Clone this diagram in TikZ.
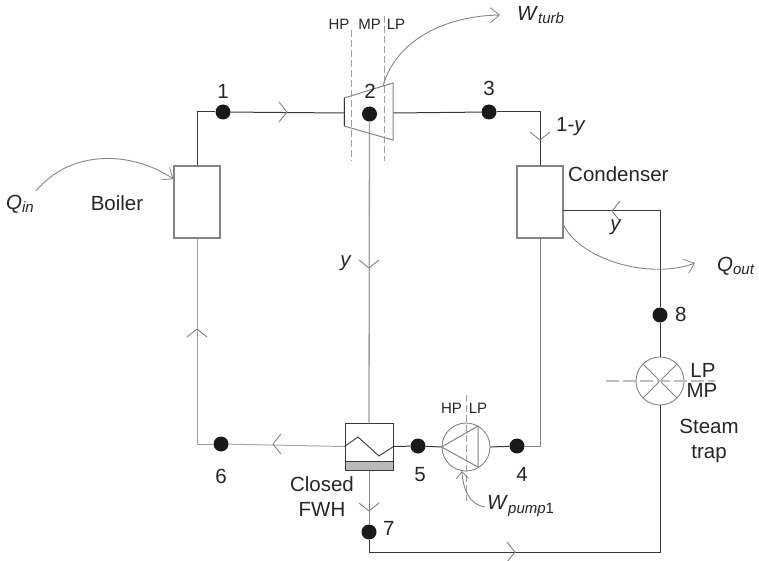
\documentclass[tikz,border=0pt]{standalone}
\usepackage{fontspec}
\setmainfont{Liberation Sans}
\usetikzlibrary{arrows.meta,calc}
\definecolor{ln}{gray}{0.22}
\definecolor{lg}{gray}{0.52}
\definecolor{dsh}{gray}{0.62}
\tikzset{
  x=1pt,y=-1pt,
  pipe/.style={draw=ln,line width=1pt},
  pipeg/.style={draw=lg,line width=1pt},
  unit/.style={draw=lg,line width=1.1pt,fill=white,inner sep=0pt,minimum width=46pt,minimum height=72pt},
  dotnode/.style={circle,fill=black!90,inner sep=0pt,minimum size=15pt},
  lab/.style={font=\fontsize{20.5}{25}\selectfont,inner sep=0pt,text=black!85,align=center},
  slab/.style={font=\fontsize{15}{17}\selectfont,inner sep=0pt,text=black!85},
  dashl/.style={draw=dsh,line width=0.9pt,dash pattern=on 7pt off 3pt},
  heat/.style={draw=lg,line width=0.9pt,-{Straight Barb[length=9pt,width=15pt,line width=0.8pt]}},
  chevlin/.style={draw=lg,line width=0.9pt},
  pics/chev/.style={code={\draw[chevlin] (-8,-10) -- (0,0) -- (-8,10);}}
}
\newcommand{\subt}[1]{\raisebox{-3.5pt}{\fontsize{15}{18}\selectfont\textit{#1}}}
\begin{document}
\begin{tikzpicture}
\useasboundingbox (0,0) rectangle (759,561);
% units
\node[unit] (boiler) at (197,202) {};
\node[unit] (cond) at (540,202) {};
\node[draw=ln,line width=1pt,fill=white,inner sep=0pt,minimum width=48pt,minimum height=47pt] (fwh) at (369,446.5) {};
\node[draw=ln,line width=1pt,fill=gray!55,inner sep=0pt,minimum width=48pt,minimum height=9pt,anchor=south] (fwhb) at (fwh.south) {};
\node[circle,draw=lg,line width=0.9pt,fill=white,inner sep=0pt,minimum size=48pt] (pump) at (466,447) {};
\node[circle,draw=lg,line width=0.9pt,fill=white,inner sep=0pt,minimum size=48pt] (trap) at (660,381) {};
% turbine ports and free corners of the pipe runs
\coordinate (tl) at (344,113);
\coordinate (tr) at (393,113);
\coordinate (c7) at (369,552);
\coordinate (cy) at (563,211);
% state points
\node[dotnode] (d1) at (223,112) {};
\node[dotnode] (d2) at (369.5,114) {};
\node[dotnode] (d3) at (489,112) {};
\node[dotnode] (d4) at (517,446) {};
\node[dotnode] (d5) at (418,446) {};
\node[dotnode] (d6) at (221,444) {};
\node[dotnode] (d7) at (369,532) {};
\node[dotnode] (d8) at (660,315) {};
% pipes
\draw[pipe] (boiler.north) |- (d1);
\draw[pipe] (d1) -- (tl);
\draw[pipe] (tr) -- (d3);
\draw[pipe] (d3) -| (cond.north);
\draw[pipeg] (cond.south) |- (d4);
\draw[pipe] (d4) -- (pump.east);
\draw[pipe] (pump.west) -- (d5);
\draw[pipe] (d5) -- (fwh.east);
\draw[draw=lg!70,line width=1pt] (fwh.west) -- (d6);
\draw[draw=lg!80,line width=1pt] (d6) -| (boiler.south);
\draw[draw=lg!80,line width=1.3pt] (d2) -- (fwh.north);
\draw[pipeg] (fwhb.south) -- (d7);
\draw[pipe] (d7) -- (c7) -| (trap.south);
\draw[pipe] (cy) -| (d8);
\draw[pipe] (d8) -- (trap.north);
% turbine
\draw[pipeg] (344,98) -- (393,83) -- (393,140) -- (344,126) -- cycle;
\draw[pipe] (344,98) -- (344,126);
% zigzag
\draw[draw=ln,line width=0.9pt] (fwh.west) -- (358,437) -- (379,456) -- (fwh.east);
% pump
\draw[draw=lg,line width=1pt] (pump.west) -- (478,426) -- (478,467) -- cycle;
\draw[dashl] (466,395) -- (466,501);
% trap
\draw[draw=lg,line width=0.9pt] (trap.45) -- (trap.225) (trap.135) -- (trap.315);
\draw[dashl,draw=lightgray,line width=1.2pt,dash pattern=on 13pt off 4pt] (606,381) -- (715,381);
% section lines
\draw[dashl] (351.5,30) -- (351.5,161);
\draw[dashl] (384,16) -- (384,161);
% chevrons
\pic at (287,112) {chev};
\pic[rotate=-90] at (540,140) {chev};
\pic[rotate=-90] at (369,268) {chev};
\pic[rotate=90] at (197,329) {chev};
\pic[rotate=180] at (273,444) {chev};
\pic[rotate=-90] at (369,511) {chev};
\pic at (515,552) {chev};
\pic[rotate=180] at (612,211) {chev};
% heat / work
\coordinate (wa) at (383,86);
\coordinate (wb) at (500,15);
\coordinate (qia) at (36,191);
\coordinate (qoa) at (563,224);
\coordinate (qob) at (695,263);
\coordinate (wpa) at (485,507);
\draw[heat] (wa) .. controls (396,40) and (445,16) .. (wb);
\draw[heat] (qia) .. controls (70,150) and (130,150) .. (boiler.west |- 0,179);
\draw[heat] (qoa) .. controls (580,260) and (650,280) .. (qob);
\draw[heat,-{Straight Barb[length=7pt,width=12pt,line width=0.8pt]}] (wpa) .. controls (470,505) and (463,490) .. (462,471);
% labels
\node[lab] (l1) at (223,91) {1};
\node[lab] (l2) at (370,91) {2};
\node[lab] (l3) at (489,88) {3};
\node[lab] (l4) at (522,474) {4};
\node[lab] (l5) at (420,475) {5};
\node[lab] (l6) at (221,476) {6};
\node[lab,anchor=west] (l7) at (383,528) {7};
\node[lab,anchor=west] (l8) at (675,314) {8};
\node[lab] (lb) at (117,203) {Boiler};
\node[lab,anchor=west] (lc) at (568,174) {Condenser};
\node[lab] (lf) at (322,497) {Closed\\FWH};
\node[lab] (ls) at (709,441) {Steam\\trap};
\node[lab,anchor=west] (lyy) at (556,127) {1-\textit{y}};
\node[lab] (ly1) at (346,263) {\textit{y}};
\node[lab] (ly2) at (616,227) {\textit{y}};
\node[lab,anchor=west] (lwt) at (517,15) {\textit{W}\subt{turb}};
\node[lab,anchor=west] (lqi) at (6,204) {\textit{Q}\subt{in}};
\node[lab,anchor=west] (lqo) at (717,266) {\textit{Q}\subt{out}};
\node[lab,anchor=west] (lwp) at (487,506) {\textit{W}\subt{pump}\raisebox{-3.5pt}{\fontsize{15}{18}\selectfont 1}};
\node[slab] (h1) at (339,24) {HP};
\node[slab] (h2) at (369.5,24) {MP};
\node[slab] (h3) at (396,24) {LP};
\node[slab] (h4) at (451.5,408) {HP};
\node[slab] (h5) at (478,408) {LP};
\node[lab] (h6) at (703,370) {LP};
\node[lab] (h7) at (702,390) {MP};
\end{tikzpicture}
\end{document}
